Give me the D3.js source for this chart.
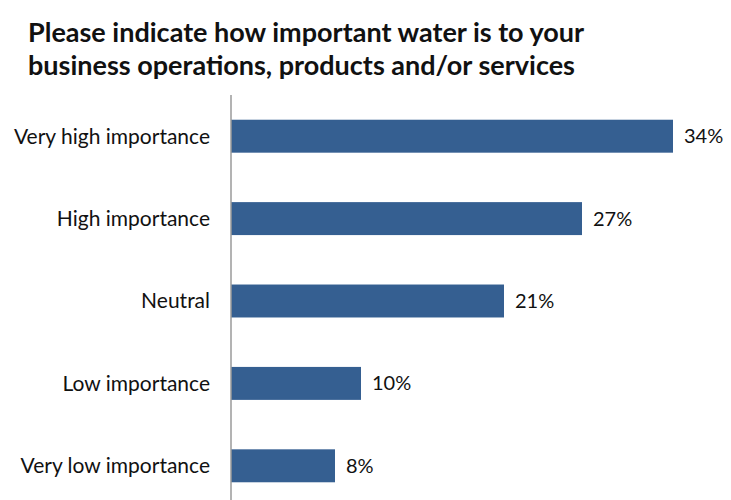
<!DOCTYPE html>
<html>
<head>
<meta charset="utf-8">
<script src="https://cdn.jsdelivr.net/npm/d3@7"></script>
<style>
  body { margin: 0; background: #fff; }
  svg { display: block; }
</style>
</head>
<body>
<script>
const categories = ["Very high importance", "High importance", "Neutral", "Low importance", "Very low importance"];
const values = [34, 27, 21, 10, 8];
const titleLines = ["Please indicate how important water is to your", "business operations, products and/or services"];

const W = 731, H = 500;
const svg = d3.select("body").append("svg").attr("width", W).attr("height", H);

const font = "Lato, 'Open Sans', sans-serif";

// Title
const title = svg.append("g");
titleLines.forEach((t, i) => {
  title.append("text")
    .attr("x", 28).attr("y", 42 + i * 33)
    .attr("font-family", font).attr("font-weight", 700)
    .attr("font-size", 27).attr("fill", "#111")
    .text(t);
});

const x = d3.scaleLinear().domain([0, 34]).range([231, 673]);
const y = d3.scaleBand().domain(categories).range([95, 507]).paddingInner(0.6).paddingOuter(0.3);

// Bars
svg.append("g").selectAll("rect")
  .data(values)
  .join("rect")
  .attr("x", x(0))
  .attr("y", (d, i) => y(categories[i]))
  .attr("width", d => x(d) - x(0))
  .attr("height", y.bandwidth())
  .attr("fill", "#355F91");

// Vertical axis line
svg.append("line")
  .attr("x1", 231).attr("x2", 231)
  .attr("y1", 95).attr("y2", H)
  .attr("stroke", "#9a9a9a").attr("stroke-width", 1.5);

// Category labels
svg.append("g").selectAll("text")
  .data(categories)
  .join("text")
  .attr("x", 210)
  .attr("y", d => y(d) + y.bandwidth() / 2)
  .attr("dy", "0.35em")
  .attr("text-anchor", "end")
  .attr("font-family", font).attr("font-size", 21).attr("fill", "#111")
  .text(d => d);

// Value labels
svg.append("g").selectAll("text")
  .data(values)
  .join("text")
  .attr("x", d => x(d) + 11)
  .attr("y", (d, i) => y(categories[i]) + y.bandwidth() / 2)
  .attr("dy", "0.35em")
  .attr("font-family", font).attr("font-size", 20).attr("fill", "#111")
  .text(d => d + "%");
</script>
</body>
</html>
